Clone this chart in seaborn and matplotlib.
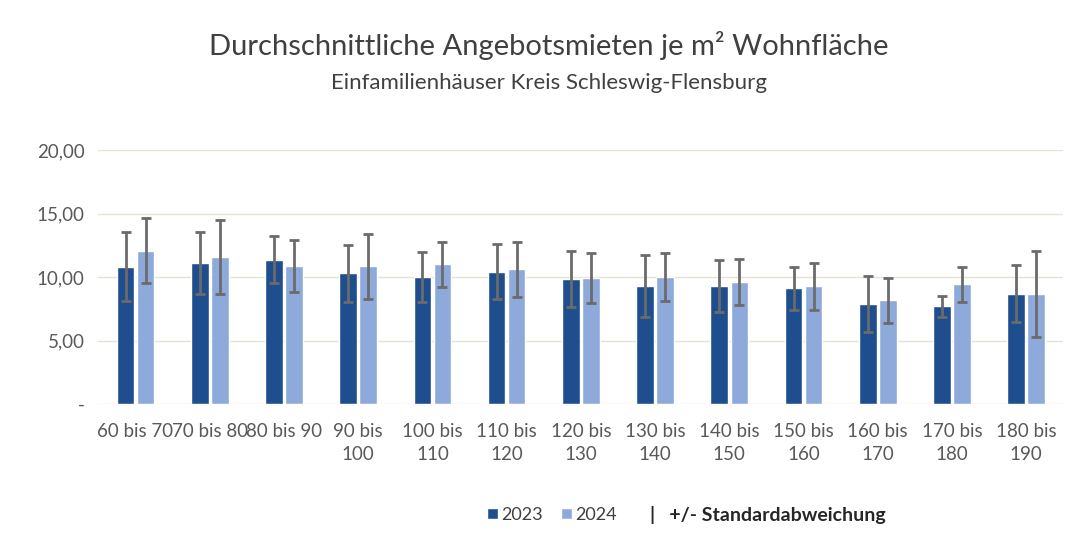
import pandas as pd
import matplotlib.pyplot as plt
import seaborn as sns
from matplotlib.patches import Patch

# Wohnflaechenklassen (m2)
categories = ["60 bis 70", "70 bis 80", "80 bis 90", "90 bis\n100", "100 bis\n110",
              "110 bis\n120", "120 bis\n130", "130 bis\n140", "140 bis\n150",
              "150 bis\n160", "160 bis\n170", "170 bis\n180", "180 bis\n190"]

mean_2023 = [10.83, 11.09, 11.35, 10.31, 10.00, 10.44, 9.87, 9.29, 9.29, 9.13, 7.85, 7.69, 8.69]
mean_2024 = [12.09, 11.60, 10.86, 10.86, 11.00, 10.60, 9.92, 10.00, 9.60, 9.29, 8.16, 9.42, 8.69]
sd_2023 = [2.70, 2.45, 1.85, 2.25, 2.00, 2.15, 2.20, 2.45, 2.05, 1.70, 2.20, 0.85, 2.25]
sd_2024 = [2.55, 2.90, 2.05, 2.55, 1.80, 2.15, 2.00, 1.90, 1.80, 1.85, 1.75, 1.40, 3.40]

years = ["2023", "2024"]
colors = ["#1f4e8f", "#8eaadb"]


def build_frame():
    rows = []
    for year, means, sds in [("2023", mean_2023, sd_2023), ("2024", mean_2024, sd_2024)]:
        for cat, m, s in zip(categories, means, sds):
            rows.append({"klasse": cat, "jahr": year, "miete": m, "sd": s})
    return pd.DataFrame(rows)


def plot_chart(df):
    sns.set_style("white")
    plt.rcParams["font.family"] = ["Lato", "DejaVu Sans"]

    fig = plt.figure(figsize=(10.89, 5.46), dpi=100)
    ax = fig.add_axes([0.0904, 0.26, 0.886, 0.465])

    sns.barplot(data=df, x="klasse", y="miete", hue="jahr", hue_order=years,
                palette=colors, saturation=1, width=0.54, gap=0.12, errorbar=None,
                legend=False, ax=ax)

    # Standardabweichung als Fehlerbalken
    for container, sds in zip(ax.containers, [sd_2023, sd_2024]):
        for bar, s in zip(container, sds):
            x = bar.get_x() + bar.get_width() / 2
            ax.errorbar(x, bar.get_height(), yerr=s, color="#6b6b6b",
                        elinewidth=2, capsize=3.6, capthick=2, zorder=3)

    ax.set_xlim(-0.5, len(categories) - 0.5)
    ax.set_ylim(0, 20)
    ax.set_yticks([0, 5, 10, 15, 20])
    ax.set_yticklabels(["-", "5,00", "10,00", "15,00", "20,00"])
    ax.grid(axis="y", color="#e4e4d4", linewidth=1)
    ax.set_axisbelow(True)
    ax.tick_params(axis="both", length=0, labelsize=13.5, colors="#595959")
    ax.tick_params(axis="x", pad=14)
    ax.tick_params(axis="y", pad=10)
    for lbl in ax.get_xticklabels():
        lbl.set_linespacing(1.4)
    ax.set_xlabel("")
    ax.set_ylabel("")
    for spine in ax.spines.values():
        spine.set_visible(False)

    fig.text(0.504, 0.916, "Durchschnittliche Angebotsmieten je m² Wohnfläche",
             ha="center", va="center", fontsize=21, color="#404040")
    fig.text(0.504, 0.848, "Einfamilienhäuser Kreis Schleswig-Flensburg",
             ha="center", va="center", fontsize=16, color="#404040")

    handles = [Patch(facecolor=c, label=y) for c, y in zip(colors, years)]
    fig.legend(handles=handles, loc="center", bbox_to_anchor=(0.507, 0.057), ncol=2,
               frameon=False, fontsize=13, handlelength=0.6, handleheight=0.6,
               handletextpad=0.2, columnspacing=1.0, labelcolor="#404040")
    fig.text(0.597, 0.057, "|   +/- Standardabweichung", ha="left", va="center",
             fontsize=14, color="#262626", fontweight="bold")

    fig.savefig("out.png", dpi=100)


def main():
    df = build_frame()
    plot_chart(df)


if __name__ == "__main__":
    main()
